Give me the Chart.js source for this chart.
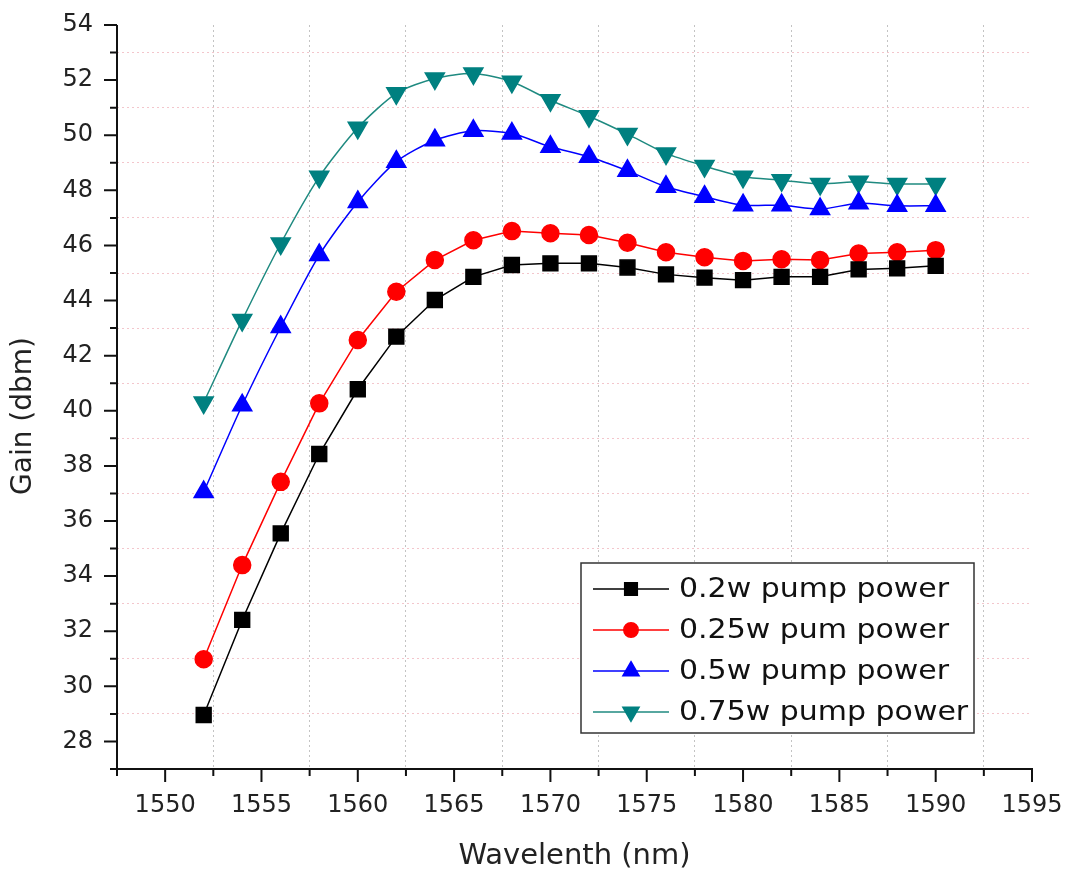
<!DOCTYPE html>
<html>
<head>
<meta charset="utf-8">
<script src="https://cdn.jsdelivr.net/npm/chart.js@4"></script>
<style>
html,body{margin:0;padding:0;background:#fff;}
#wrap{width:1067px;height:874px;position:relative;}
</style>
</head>
<body>
<div id="wrap"><canvas id="c"></canvas></div>
<script>
const wavelength = [1552,1554,1556,1558,1560,1562,1564,1566,1568,1570,1572,1574,1576,1578,1580,1582,1584,1586,1588,1590];
const gain02  = [28.96,32.41,35.55,38.43,40.78,42.69,44.02,44.86,45.29,45.35,45.35,45.20,44.95,44.83,44.74,44.86,44.86,45.13,45.17,45.26];
const gain025 = [30.98,34.40,37.42,40.27,42.57,44.32,45.47,46.19,46.52,46.44,46.38,46.10,45.75,45.57,45.44,45.50,45.47,45.71,45.75,45.83];
const gain05  = [37.05,40.20,43.04,45.65,47.58,49.04,49.82,50.16,50.06,49.58,49.22,48.71,48.13,47.77,47.46,47.46,47.32,47.53,47.44,47.44];
const gain075 = [40.30,43.29,46.07,48.49,50.27,51.52,52.06,52.24,51.94,51.27,50.69,50.04,49.34,48.88,48.49,48.37,48.23,48.31,48.23,48.23];
const seriesLabels = ['0.2w pump power','0.25w pum power','0.5w pump power','0.75w pump power'];
const xTickValues = [1547.5,1550,1552.5,1555,1557.5,1560,1562.5,1565,1567.5,1570,1572.5,1575,1577.5,1580,1582.5,1585,1587.5,1590,1592.5,1595];
const yTickValues = [27,28,29,30,31,32,33,34,35,36,37,38,39,40,41,42,43,44,45,46,47,48,49,50,51,52,53,54];
const xTitle = 'Wavelenth (nm)';
const yTitle = 'Gain (dbm)';

const FONT = "'DejaVu Sans', sans-serif";
function pts(ys){ return wavelength.map((x,i)=>({x:x,y:ys[i]})); }

const axesPlugin = {
  id:'axesPlugin',
  afterDatasetsDraw(chart){
    const ctx = chart.ctx, xs = chart.scales.x, ys = chart.scales.y, a = chart.chartArea;
    ctx.save();
    ctx.strokeStyle = '#111';
    ctx.lineWidth = 2;
    ctx.beginPath();
    ctx.moveTo(a.left, a.top); ctx.lineTo(a.left, a.bottom+1);
    ctx.moveTo(a.left-1, a.bottom); ctx.lineTo(a.right+1, a.bottom);
    ctx.stroke();
    ctx.beginPath();
    xTickValues.forEach(v=>{
      const px = xs.getPixelForValue(v);
      const len = (v % 5 === 0) ? 13 : 7;
      ctx.moveTo(px, a.bottom); ctx.lineTo(px, a.bottom+len);
    });
    yTickValues.forEach(v=>{
      const py = ys.getPixelForValue(v);
      const len = (v % 2 === 0) ? 13 : 7;
      ctx.moveTo(a.left, py); ctx.lineTo(a.left-len, py);
    });
    ctx.stroke();
    // y axis title
    ctx.fillStyle = '#222';
    ctx.font = "28px " + FONT;
    ctx.textAlign = 'center';
    ctx.textBaseline = 'middle';
    ctx.translate(24, 416);
    ctx.rotate(-Math.PI/2);
    ctx.fillText(yTitle, 0, 0);
    ctx.restore();
  }
};

const legendPlugin = {
  id:'boxLegend',
  afterDraw(chart){
    const ctx = chart.ctx;
    const bx = 581, by = 563, bw = 393, bh = 170;
    const rows = [589, 630, 671, 712];
    ctx.save();
    ctx.fillStyle = '#fff';
    ctx.fillRect(bx, by, bw, bh);
    ctx.strokeStyle = '#333';
    ctx.lineWidth = 1.5;
    ctx.strokeRect(bx, by, bw, bh);
    chart.data.datasets.forEach((ds, i)=>{
      const y = rows[i];
      ctx.strokeStyle = ds.borderColor;
      ctx.lineWidth = 1.5;
      ctx.beginPath(); ctx.moveTo(593, y); ctx.lineTo(669, y); ctx.stroke();
      ctx.fillStyle = ds.pointBackgroundColor;
      ctx.strokeStyle = ds.pointBackgroundColor;
      Chart.helpers.drawPoint(ctx, {pointStyle: ds.pointStyle, radius: ds.pointRadius*0.85, rotation: ds.pointRotation||0, borderWidth: 1}, 631, y);
      ctx.save();
      ctx.fillStyle = '#111';
      ctx.font = "27px " + FONT;
      ctx.textAlign = 'left';
      ctx.textBaseline = 'middle';
      ctx.translate(679, y+1);
      ctx.scale(1.11, 1);
      ctx.fillText(ds.label, 0, 0);
      ctx.restore();
    });
    ctx.restore();
  }
};

new Chart(document.getElementById('c'), {
  type:'line',
  data:{
    datasets:[
      {label:seriesLabels[0], data:pts(gain02), borderColor:'#000000', backgroundColor:'#000000', pointBackgroundColor:'#000000', pointBorderColor:'#000000', pointStyle:'rect', pointRadius:10.5, borderWidth:1.5, tension:0},
      {label:seriesLabels[1], data:pts(gain025), borderColor:'#ff0000', backgroundColor:'#ff0000', pointBackgroundColor:'#ff0000', pointBorderColor:'#ff0000', pointStyle:'circle', pointRadius:8.5, borderWidth:1.5, tension:0},
      {label:seriesLabels[2], data:pts(gain05), borderColor:'#0000ff', backgroundColor:'#0000ff', pointBackgroundColor:'#0000ff', pointBorderColor:'#0000ff', pointStyle:'triangle', pointRadius:11, borderWidth:1.5, tension:0.25},
      {label:seriesLabels[3], data:pts(gain075), borderColor:'#1f8a80', backgroundColor:'#008080', pointBackgroundColor:'#008080', pointBorderColor:'#008080', pointStyle:'triangle', pointRotation:180, pointRadius:11, borderWidth:1.5, tension:0.25}
    ]
  },
  options:{
    responsive:true,
    maintainAspectRatio:false,
    animation:false,
    layout:{padding:{left:0, top:25, right:35, bottom:0}},
    plugins:{legend:{display:false}, tooltip:{enabled:false}},
    scales:{
      x:{
        type:'linear', min:1547.5, max:1595,
        afterBuildTicks(s){ s.ticks = xTickValues.map(v=>({value:v})); },
        afterFit(s){ s.height = 105; },
        ticks:{autoSkip:false, maxRotation:0, padding:0, color:'#222', font:{family:FONT, size:24},
          callback(v){ return (v % 5 === 0) ? String(v) : ''; }},
        grid:{drawTicks:true, tickLength:22, tickColor:'rgba(0,0,0,0)', lineWidth:1,
          color(c){ const v = c.tick ? c.tick.value : 0; return (v % 5 !== 0 && v !== 1547.5) ? 'rgba(170,170,170,0.7)' : 'rgba(0,0,0,0)'; }},
        border:{display:false, dash:[2,3]},
        title:{display:true, text:xTitle, color:'#222', font:{family:FONT, size:29}, padding:{top:0, bottom:0}}
      },
      y:{
        type:'linear', min:27, max:54,
        afterBuildTicks(s){ s.ticks = yTickValues.map(v=>({value:v})); },
        afterFit(s){ s.width = 117; },
        ticks:{autoSkip:false, padding:0, color:'#222', font:{family:FONT, size:24},
          callback(v){ return (v % 2 === 0) ? String(v) : ''; }},
        grid:{drawTicks:true, tickLength:24, tickColor:'rgba(0,0,0,0)', lineWidth:1,
          color(c){ const v = c.tick ? c.tick.value : 0; return (v % 2 !== 0 && v !== 27) ? 'rgba(235,160,170,0.6)' : 'rgba(0,0,0,0)'; }},
        border:{display:false, dash:[2,3]},
        title:{display:false}
      }
    }
  },
  plugins:[axesPlugin, legendPlugin]
});
</script>
</body>
</html>
